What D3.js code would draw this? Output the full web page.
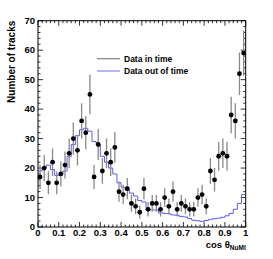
<!DOCTYPE html>
<html>
<head>
<meta charset="utf-8">
<script src="https://cdn.jsdelivr.net/npm/d3@7"></script>
<style>
  html, body { margin: 0; padding: 0; background: #fff; }
  svg { display: block; font-family: "Liberation Sans", Arial, sans-serif; }
</style>
</head>
<body>
<svg id="chart" width="273" height="259"></svg>
<script>
// histogram binning: 50 bins of 0.02 in cos theta
const BIN_WIDTH = 0.02;
const binLow = d3.range(50).map((i) => +(i * BIN_WIDTH).toFixed(2));

// data in time (counts per bin)
const inTime = [17, 20, 15, 22, 15, 18, 21, 25, 30, 26,
  36, 32, 45, 17, 28, 19, 25, 22, 27, 12,
  11, 13, 8, 7, 5, 13, 6, 8, 8, 6,
  10, 7, 12, 6, 8, 7, 6, 6, 10, 11,
  7, 19, 16, 24, 25, 24, 38, 36, 52, 59];

// data out of time (normalised)
const outOfTime = [19, 20, 21, 19.5, 17.5, 18, 19, 24, 28, 31,
  33, 33.5, 32.5, 29, 28, 24, 22, 20, 18, 15,
  13.5, 12.5, 11.5, 10.5, 9, 8.5, 5.8, 5.8, 5.8, 4.8,
  4.6, 4.5, 4.1, 4.0, 3.6, 3.4, 2.9, 2.3, 2.1, 1.9,
  2.2, 2.6, 2.8, 3.0, 3.3, 3.8, 4.6, 6, 8, 11];

const xTicks = [0, 0.1, 0.2, 0.3, 0.4, 0.5, 0.6, 0.7, 0.8, 0.9, 1];
const yTicks = [0, 10, 20, 30, 40, 50, 60, 70];
const legendLabels = ["Data in time", "Data out of time"];

const svg = d3.select("#chart");
const margin = { top: 20.7, right: 27.3, bottom: 32, left: 38 };
const width = 273 - margin.left - margin.right;
const height = 259 - margin.top - margin.bottom;

const x = d3.scaleLinear().domain([0, 1]).range([margin.left, margin.left + width]);
const y = d3.scaleLinear().domain([0, 70]).range([margin.top + height, margin.top]);

const TICK_MAJOR = 5;
const TICK_MINOR = 2.5;
const xMinor = d3.range(0, 51).map((i) => i * 0.02);
const yMinor = d3.range(0, 36).map((i) => i * 2);

// ticks on all four sides, pointing inward
const ticks = svg.append("g").attr("stroke", "#000").attr("stroke-width", 0.8);
xMinor.forEach((v, i) => {
  const len = i % 5 === 0 ? TICK_MAJOR : TICK_MINOR;
  ticks.append("line").attr("x1", x(v)).attr("x2", x(v))
    .attr("y1", y(0)).attr("y2", y(0) - len);
  ticks.append("line").attr("x1", x(v)).attr("x2", x(v))
    .attr("y1", y(70)).attr("y2", y(70) + len);
});
yMinor.forEach((v, i) => {
  const len = i % 5 === 0 ? TICK_MAJOR : TICK_MINOR;
  ticks.append("line").attr("y1", y(v)).attr("y2", y(v))
    .attr("x1", x(0)).attr("x2", x(0) + len);
  ticks.append("line").attr("y1", y(v)).attr("y2", y(v))
    .attr("x1", x(1)).attr("x2", x(1) - len);
});

// out of time histogram (step outline)
const stepData = binLow.map((b, i) => [b, outOfTime[i]]);
stepData.push([1, outOfTime[outOfTime.length - 1]]);
svg.append("path")
  .datum(stepData)
  .attr("fill", "none")
  .attr("stroke", "#5b5bf5")
  .attr("stroke-width", 1)
  .attr("d", d3.line().x((d) => x(d[0])).y((d) => y(d[1])).curve(d3.curveStepAfter));

// in time: error bars (sqrt N) + markers
const pts = binLow.map((b, i) => ({ cx: b + BIN_WIDTH / 2, n: inTime[i] }));
svg.append("g").selectAll("line")
  .data(pts)
  .join("line")
  .attr("x1", (d) => x(d.cx)).attr("x2", (d) => x(d.cx))
  .attr("y1", (d) => y(Math.min(70, d.n + Math.sqrt(d.n))))
  .attr("y2", (d) => y(Math.max(0, d.n - Math.sqrt(d.n))))
  .attr("stroke", "#8a8a8a")
  .attr("stroke-width", 1.3);

svg.append("g").selectAll("circle")
  .data(pts)
  .join("circle")
  .attr("cx", (d) => x(d.cx))
  .attr("cy", (d) => y(d.n))
  .attr("r", 2.4)
  .attr("fill", "#000");

// frame
svg.append("rect")
  .attr("x", x(0)).attr("y", y(70))
  .attr("width", x(1) - x(0)).attr("height", y(0) - y(70))
  .attr("fill", "none").attr("stroke", "#000").attr("stroke-width", 1);

// tick labels
svg.append("g").selectAll("text")
  .data(xTicks)
  .join("text")
  .attr("x", (d) => x(d))
  .attr("y", y(0) + 9)
  .attr("text-anchor", "middle")
  .attr("font-size", 9.5)
  .attr("font-weight", "bold")
  .text((d) => d);

svg.append("g").selectAll("text")
  .data(yTicks)
  .join("text")
  .attr("x", x(0) - 3)
  .attr("y", (d) => y(d))
  .attr("dy", "0.35em")
  .attr("text-anchor", "end")
  .attr("font-size", 9.5)
  .attr("font-weight", "bold")
  .text((d) => d);

// axis titles
svg.append("text")
  .attr("transform", `translate(15, ${y(70)}) rotate(-90)`)
  .attr("text-anchor", "end")
  .attr("font-size", 10)
  .attr("font-weight", "bold")
  .text("Number of tracks");

const xt = svg.append("text")
  .attr("x", x(1))
  .attr("y", y(0) + 20.5)
  .attr("text-anchor", "end")
  .attr("font-size", 9.5)
  .attr("font-weight", "bold");
xt.append("tspan").text("cos θ");
xt.append("tspan").attr("font-size", 6.5).attr("dy", 2.5).text("NuMI");

// legend
const legendColors = ["#8a8a8a", "#8f8ff5"];
legendLabels.forEach((label, i) => {
  const ly = 58.7 + i * 12.3;
  svg.append("line")
    .attr("x1", 97).attr("x2", 120).attr("y1", ly).attr("y2", ly)
    .attr("stroke", legendColors[i]).attr("stroke-width", 1.3);
  svg.append("text")
    .attr("x", 124).attr("y", ly).attr("dy", "0.35em")
    .attr("font-size", 8.5).attr("font-weight", "bold")
    .text(label);
});
</script>
</body>
</html>
